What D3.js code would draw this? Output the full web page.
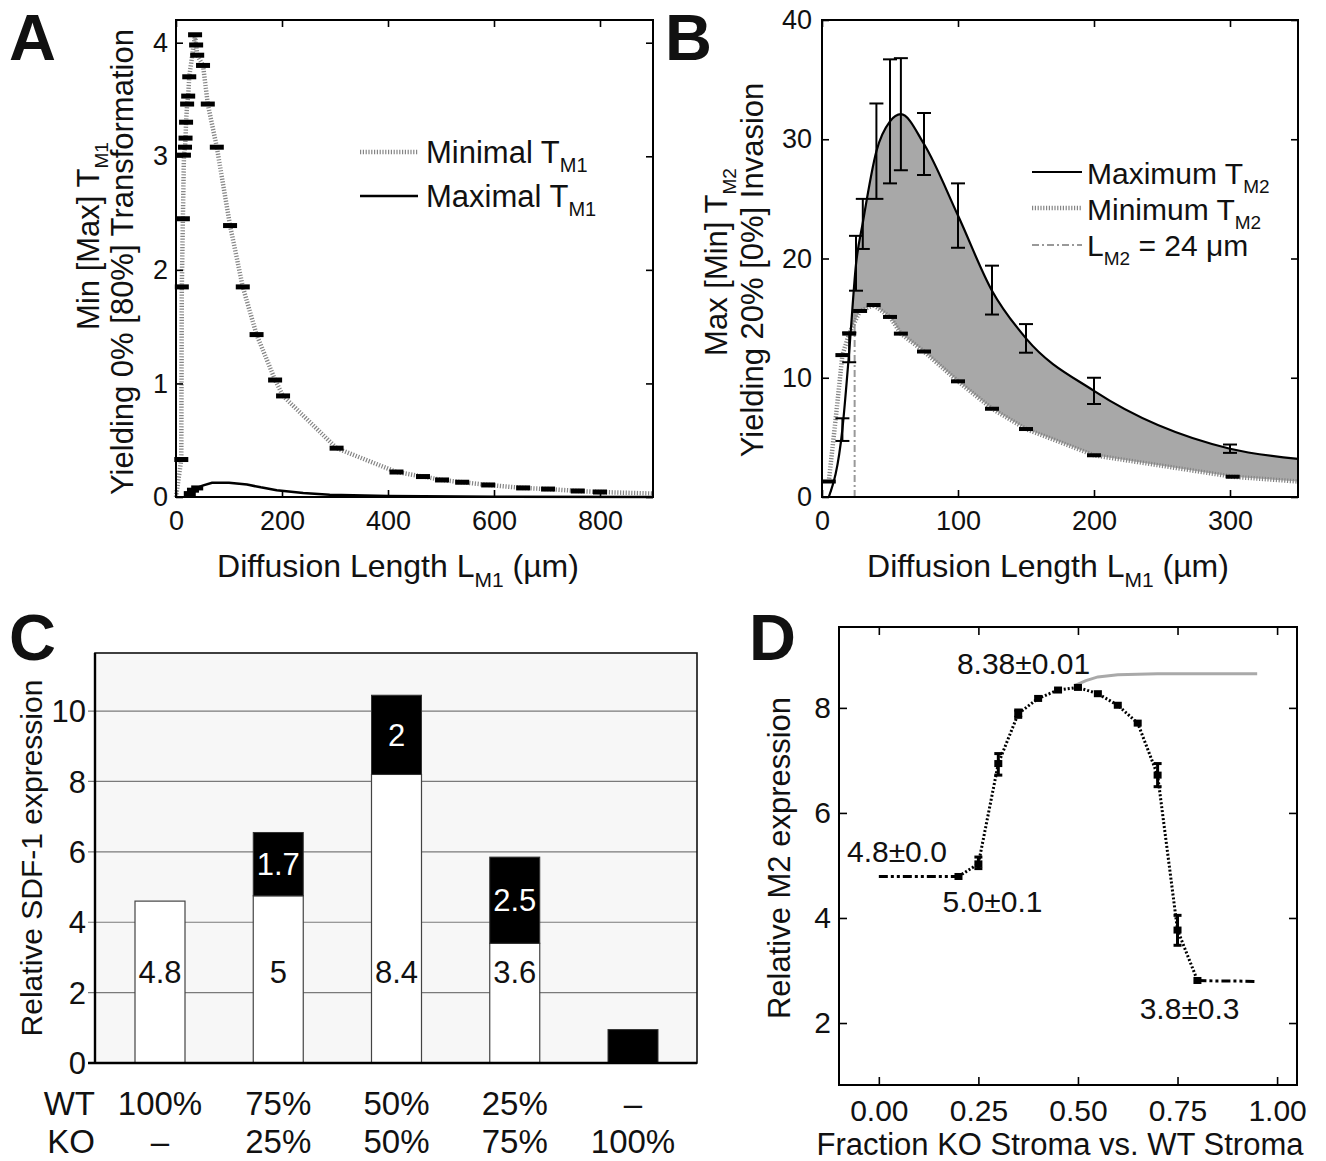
<!DOCTYPE html>
<html>
<head>
<meta charset="utf-8">
<script src="https://cdn.jsdelivr.net/npm/d3@7"></script>
<style>
  body { margin: 0; background: #fff; }
  svg { display: block; }
  text { font-family: "Liberation Sans", Arial, sans-serif; fill: #111; }
  .narrow { font-family: "Liberation Sans Narrow", "Arial Narrow", "Liberation Sans", sans-serif; }
</style>
</head>
<body>
<svg id="fig" width="1326" height="1161"></svg>
<script>
// ---- panel A : T_M1 vs diffusion length
const aMinL = [0, 10, 11, 13, 15, 17, 18, 19, 21, 23, 25, 36, 38, 40, 51, 60, 77, 102, 126, 152, 187, 202, 303, 416, 466, 502, 540, 589, 655, 702, 758, 800, 900];
const aMinV = [0, 0.33, 1.85, 2.45, 3.01, 3.08, 3.16, 3.3, 3.46, 3.53, 3.7, 4.07, 3.98, 3.89, 3.8, 3.46, 3.08, 2.39, 1.85, 1.43, 1.03, 0.89, 0.43, 0.22, 0.18, 0.15, 0.13, 0.106, 0.08, 0.07, 0.053, 0.044, 0.03];
const aMaxL = [20, 26, 32, 40, 50, 68, 100, 134, 160, 190, 240, 290, 400, 600, 900];
const aMaxV = [0, 0.03, 0.06, 0.08, 0.1, 0.125, 0.125, 0.11, 0.085, 0.06, 0.035, 0.02, 0.008, 0.003, 0.001];
const aXTicks = [0, 200, 400, 600, 800];
const aYTicks = [0, 1, 2, 3, 4];

// ---- panel B : T_M2 vs diffusion length
const bMaxL = [5, 15, 20, 25, 30, 40, 50, 58, 75, 100, 125, 150, 200, 300, 350];
const bMaxV = [0, 5.7, 12.2, 19.5, 23, 29, 31.5, 32.1, 29.6, 23.6, 17.3, 13.3, 8.9, 4.05, 3.2];
const bMaxLo = [null, 4.7, 11.3, 17.3, 20.8, 25, 26.3, 27.4, 27, 20.9, 15.3, 12.1, 7.8, 3.7, null];
const bMaxHi = [null, 6.6, 13.8, 21.9, 25, 33, 36.7, 36.8, 32.2, 26.3, 19.4, 14.5, 10, 4.4, null];
const bMinL = [5, 10, 15, 20, 28, 38, 50, 58, 75, 100, 125, 150, 200, 302, 350];
const bMinV = [1.3, 6.5, 11.9, 13.7, 15.6, 16.1, 15.1, 13.7, 12.2, 9.7, 7.4, 5.7, 3.5, 1.7, 1.3];
const bLM2 = 24;
const bXTicks = [0, 100, 200, 300];
const bYTicks = [0, 10, 20, 30, 40];

// ---- panel C : SDF-1 expression
const cGroups = ["g1", "g2", "g3", "g4", "g5"];
const cWT = [4.6, 4.75, 8.2, 3.4, 0];
const cKO = [0, 1.8, 2.25, 2.45, 0.95];
const cWTLabel = ["4.8", "5", "8.4", "3.6", ""];
const cKOLabel = ["", "1.7", "2", "2.5", ""];
const cWTRow = ["100%", "75%", "50%", "25%", "–"];
const cKORow = ["–", "25%", "50%", "75%", "100%"];
const cYTicks = [0, 2, 4, 6, 8, 10];

// ---- panel D : M2 expression vs KO fraction
const dX = [0, 0.05, 0.1, 0.15, 0.2, 0.25, 0.3, 0.35, 0.4, 0.45, 0.5, 0.55, 0.6, 0.65, 0.7, 0.75, 0.8, 0.85, 0.9, 0.95];
const dY = [4.79, 4.79, 4.79, 4.79, 4.79, 5.03, 6.94, 7.89, 8.18, 8.34, 8.39, 8.27, 8.05, 7.71, 6.72, 3.77, 2.81, 2.8, 2.8, 2.79];
const dLo = [null, null, null, null, null, 4.94, 6.72, 7.82, null, null, null, null, null, null, 6.5, 3.48, null, null, null, null];
const dHi = [null, null, null, null, null, 5.16, 7.13, 7.96, null, null, null, null, null, null, 6.94, 4.05, null, null, null, null];
const dGX = [0.49, 0.52, 0.55, 0.6, 0.65, 0.7, 0.8, 0.9, 0.95];
const dGY = [8.42, 8.52, 8.59, 8.63, 8.64, 8.65, 8.65, 8.65, 8.65];
const dNotes = [
  { t: "8.38±0.01", x: 0.196, y: 8.64 },
  { t: "4.8±0.0", x: -0.08, y: 5.07 },
  { t: "5.0±0.1", x: 0.16, y: 4.12 },
  { t: "3.8±0.3", x: 0.655, y: 2.08 },
];
const dXTicks = [0, 0.25, 0.5, 0.75, 1];
const dYTicks = [2, 4, 6, 8];

const svg = d3.select("#fig");
svg.append("rect").attr("width", 1326).attr("height", 1161).attr("fill", "#fff");

// text with subscripts: parts = [[string, isSub], ...]
function rich(sel, parts, fs, sfs) {
  parts.forEach(([t, s], i) => {
    const ts = sel.append("tspan").text(t);
    if (s) ts.attr("font-size", sfs).attr("dy", fs * 0.3);
    else if (i > 0 && parts[i - 1][1]) ts.attr("dy", -fs * 0.3);
  });
  return sel;
}

// matlab-like box with inward ticks on all sides
function boxAxes(x, y, xTicks, yTicks, o) {
  const [x0, x1] = x.range(), [y0, y1] = y.range();
  const g = svg.append("g");
  const style = s => {
    s.attr("font-family", null).attr("font-size", null);
    s.select(".domain").remove();
    s.selectAll("line").attr("stroke-width", 1.6);
    s.selectAll("text").attr("font-size", o.fs);
  };
  g.append("g").attr("transform", `translate(0,${y0})`)
    .call(d3.axisBottom(x).tickValues(xTicks).tickSize(-o.tick).tickPadding(o.xpad).tickFormat(o.xfmt || (d => d)))
    .call(style);
  g.append("g").attr("transform", `translate(0,${y1})`)
    .call(d3.axisTop(x).tickValues(xTicks).tickSize(-o.tick).tickFormat(() => ""))
    .call(style);
  g.append("g").attr("transform", `translate(${x0},0)`)
    .call(d3.axisLeft(y).tickValues(yTicks).tickSize(-o.tick).tickPadding(o.ypad).tickFormat(d => d))
    .call(style);
  g.append("g").attr("transform", `translate(${x1},0)`)
    .call(d3.axisRight(y).tickValues(yTicks).tickSize(-o.tick).tickFormat(() => ""))
    .call(style);
  g.append("rect").attr("x", x0).attr("y", y1).attr("width", x1 - x0).attr("height", y0 - y1)
    .attr("fill", "none").attr("stroke", "#000").attr("stroke-width", 2);
  return g;
}

function panelLetter(t, x, y) {
  svg.append("text").attr("x", x).attr("y", y).attr("font-size", 65).attr("font-weight", "bold").text(t);
}

function vTitle(parts, x, y, fs, sfs) {
  const t = svg.append("text").attr("transform", `translate(${x},${y}) rotate(-90)`)
    .attr("text-anchor", "middle").attr("font-size", fs);
  rich(t, parts, fs, sfs);
}

const dotted = { stroke: "#858585", width: 4.5, dash: "1.2,1.6" };

// ================= Panel A =================
{
  const x = d3.scaleLinear([0, 900], [176, 653]);
  const y = d3.scaleLinear([0, 4.2], [497, 20]);
  const line = d3.line().x(d => x(d[0])).y(d => y(d[1]));

  const maxPts = aMaxL.map((l, i) => [l, aMaxV[i]]);
  svg.append("path").attr("d", line(maxPts)).attr("fill", "none")
    .attr("stroke", "#000").attr("stroke-width", 2.5);
  svg.append("g").selectAll("rect").data(maxPts.slice(1, 4)).join("rect")
    .attr("x", d => x(d[0]) - 6).attr("y", d => y(d[1]) - 2.5).attr("width", 12).attr("height", 5).attr("fill", "#000");

  const minPts = aMinL.map((l, i) => [l, aMinV[i]]);
  svg.append("path").attr("d", line(minPts)).attr("fill", "none")
    .attr("stroke", dotted.stroke).attr("stroke-width", dotted.width).attr("stroke-dasharray", dotted.dash);
  svg.append("g").selectAll("rect").data(minPts.slice(1, -1)).join("rect")
    .attr("x", d => x(d[0]) - 7).attr("y", d => y(d[1]) - 2.5).attr("width", 14).attr("height", 5).attr("fill", "#000");

  boxAxes(x, y, aXTicks, aYTicks, { tick: 7, xpad: 14, ypad: 8, fs: 27 });

  // legend
  svg.append("line").attr("x1", 360).attr("x2", 418).attr("y1", 152).attr("y2", 152)
    .attr("stroke", dotted.stroke).attr("stroke-width", dotted.width).attr("stroke-dasharray", dotted.dash);
  rich(svg.append("text").attr("x", 426).attr("y", 163).attr("font-size", 31), [["Minimal T", 0], ["M1", 1]], 31, 20);
  svg.append("line").attr("x1", 360).attr("x2", 418).attr("y1", 196).attr("y2", 196)
    .attr("stroke", "#000").attr("stroke-width", 2.5);
  rich(svg.append("text").attr("x", 426).attr("y", 207).attr("font-size", 31), [["Maximal T", 0], ["M1", 1]], 31, 20);

  rich(svg.append("text").attr("x", 398).attr("y", 577).attr("text-anchor", "middle").attr("font-size", 32),
    [["Diffusion Length L", 0], ["M1", 1], [" (µm)", 0]], 32, 21);
  vTitle([["Min [Max] T", 0], ["M1", 1]], 99, 236, 31, 19);
  vTitle([["Yielding 0% [80%] Transformation", 0]], 133, 262, 31, 19);
  panelLetter("A", 9, 60);
}

// ================= Panel B =================
{
  const x = d3.scaleLinear([0, 350], [822, 1298]);
  const y = d3.scaleLinear([0, 40], [497, 20]);
  const line = d3.line().x(d => x(d[0])).y(d => y(d[1]));
  const smooth = d3.line().x(d => x(d[0])).y(d => y(d[1])).curve(d3.curveMonotoneX);
  const maxPts = bMaxL.map((l, i) => [l, bMaxV[i]]);
  const minPts = bMinL.map((l, i) => [l, bMinV[i]]);

  // grey band between the curves: smooth upper edge, straight lower edge back
  const upper = smooth(maxPts.filter(d => d[0] >= 20));
  const lower = line(minPts.filter(d => d[0] >= 20).reverse()).replace(/^M/, "L");
  svg.append("path").attr("d", upper + lower + "Z").attr("fill", "#a8a8a8");

  svg.append("line").attr("x1", x(bLM2)).attr("x2", x(bLM2)).attr("y1", y(0)).attr("y2", y(15.8))
    .attr("stroke", "#999").attr("stroke-width", 2).attr("stroke-dasharray", "7,3,2,3");

  svg.append("path").attr("d", line(minPts)).attr("fill", "none")
    .attr("stroke", dotted.stroke).attr("stroke-width", dotted.width).attr("stroke-dasharray", dotted.dash);
  svg.append("g").selectAll("rect").data(minPts.filter((d, i) => i !== 1 && i !== minPts.length - 1)).join("rect")
    .attr("x", d => x(d[0]) - 7).attr("y", d => y(d[1]) - 2).attr("width", 14).attr("height", 4).attr("fill", "#000");

  svg.append("path").attr("d", smooth(maxPts))
    .attr("fill", "none").attr("stroke", "#000").attr("stroke-width", 2.2);
  const eb = svg.append("g").attr("stroke", "#000").attr("stroke-width", 2);
  bMaxL.forEach((l, i) => {
    if (bMaxLo[i] == null) return;
    const cx = x(l);
    eb.append("line").attr("x1", cx).attr("x2", cx).attr("y1", y(bMaxLo[i])).attr("y2", y(bMaxHi[i]));
    eb.append("line").attr("x1", cx - 7).attr("x2", cx + 7).attr("y1", y(bMaxLo[i])).attr("y2", y(bMaxLo[i]));
    eb.append("line").attr("x1", cx - 7).attr("x2", cx + 7).attr("y1", y(bMaxHi[i])).attr("y2", y(bMaxHi[i]));
  });

  boxAxes(x, y, bXTicks, bYTicks, { tick: 7, xpad: 14, ypad: 10, fs: 27 });

  // legend
  svg.append("line").attr("x1", 1032).attr("x2", 1082).attr("y1", 172).attr("y2", 172)
    .attr("stroke", "#000").attr("stroke-width", 2.2);
  rich(svg.append("text").attr("x", 1087).attr("y", 184).attr("font-size", 30), [["Maximum T", 0], ["M2", 1]], 30, 19);
  svg.append("line").attr("x1", 1032).attr("x2", 1082).attr("y1", 208).attr("y2", 208)
    .attr("stroke", dotted.stroke).attr("stroke-width", dotted.width).attr("stroke-dasharray", dotted.dash);
  rich(svg.append("text").attr("x", 1087).attr("y", 220).attr("font-size", 30), [["Minimum T", 0], ["M2", 1]], 30, 19);
  svg.append("line").attr("x1", 1032).attr("x2", 1082).attr("y1", 245).attr("y2", 245)
    .attr("stroke", "#999").attr("stroke-width", 2).attr("stroke-dasharray", "7,3,2,3");
  rich(svg.append("text").attr("x", 1087).attr("y", 256).attr("font-size", 30), [["L", 0], ["M2", 1], [" = 24 μm", 0]], 30, 19);

  rich(svg.append("text").attr("x", 1048).attr("y", 577).attr("text-anchor", "middle").attr("font-size", 32),
    [["Diffusion Length L", 0], ["M1", 1], [" (µm)", 0]], 32, 21);
  vTitle([["Max [Min] T", 0], ["M2", 1]], 727, 262, 31, 19);
  vTitle([["Yielding 20% [0%] Invasion", 0]], 763, 270, 31, 19);
  panelLetter("B", 665, 60);
}

// ================= Panel C =================
{
  const x = d3.scalePoint(cGroups, [160, 633]);
  const y = d3.scaleLinear([0, 11.65], [1063, 653]);
  const bw = 50;

  svg.append("rect").attr("x", 95).attr("y", 653).attr("width", 602).attr("height", 410).attr("fill", "#f7f7f7");
  svg.append("g").selectAll("line").data(cYTicks.filter(d => d > 0)).join("line")
    .attr("x1", 88).attr("x2", 697).attr("y1", d => y(d)).attr("y2", d => y(d))
    .attr("stroke", "#7a7a7a").attr("stroke-width", 1.2);

  const bars = svg.append("g");
  bars.selectAll(".wt").data(cGroups.filter((g, i) => cWT[i] > 0)).join("rect")
    .attr("x", g => x(g) - bw / 2).attr("width", bw)
    .attr("y", g => y(cWT[cGroups.indexOf(g)])).attr("height", g => y(0) - y(cWT[cGroups.indexOf(g)]))
    .attr("fill", "#fff").attr("stroke", "#444").attr("stroke-width", 1.2);
  bars.selectAll(".ko").data(cGroups.filter((g, i) => cKO[i] > 0)).join("rect")
    .attr("x", g => x(g) - bw / 2).attr("width", bw)
    .attr("y", g => { const i = cGroups.indexOf(g); return y(cWT[i] + cKO[i]); })
    .attr("height", g => { const i = cGroups.indexOf(g); return y(cWT[i]) - y(cWT[i] + cKO[i]); })
    .attr("fill", "#000").attr("stroke", "#333").attr("stroke-width", 1);

  bars.selectAll(".wl").data(cGroups).join("text").attr("class", "narrow")
    .attr("x", g => x(g)).attr("y", y(2.6)).attr("dy", "0.36em").attr("text-anchor", "middle")
    .attr("font-size", 31).text((g, i) => cWTLabel[i]);
  bars.selectAll(".kl").data(cGroups).join("text").attr("class", "narrow")
    .attr("x", g => x(g)).attr("y", (g, i) => y(cWT[i] + cKO[i] / 2)).attr("dy", "0.36em").attr("text-anchor", "middle")
    .attr("font-size", 31).style("fill", "#fff").text((g, i) => cKOLabel[i]);

  // frame
  svg.append("rect").attr("x", 95).attr("y", 653).attr("width", 602).attr("height", 410)
    .attr("fill", "none").attr("stroke", "#111").attr("stroke-width", 1.6);
  svg.append("line").attr("x1", 95).attr("x2", 95).attr("y1", 653).attr("y2", 1063).attr("stroke", "#000").attr("stroke-width", 2.4);
  svg.append("line").attr("x1", 88).attr("x2", 697).attr("y1", 1063).attr("y2", 1063).attr("stroke", "#000").attr("stroke-width", 2.4);

  svg.append("g").selectAll("text").data(cYTicks).join("text").attr("class", "narrow")
    .attr("x", 86).attr("y", d => y(d)).attr("dy", "0.36em").attr("text-anchor", "end")
    .attr("font-size", 31).text(d => d);

  svg.append("g").selectAll("text").data(cGroups).join("text").attr("class", "narrow")
    .attr("x", g => x(g)).attr("y", 1115).attr("text-anchor", "middle").attr("font-size", 33).text((g, i) => cWTRow[i]);
  svg.append("g").selectAll("text").data(cGroups).join("text").attr("class", "narrow")
    .attr("x", g => x(g)).attr("y", 1153).attr("text-anchor", "middle").attr("font-size", 33).text((g, i) => cKORow[i]);
  svg.append("text").attr("class", "narrow").attr("x", 95).attr("y", 1115).attr("text-anchor", "end").attr("font-size", 33).text("WT");
  svg.append("text").attr("class", "narrow").attr("x", 95).attr("y", 1153).attr("text-anchor", "end").attr("font-size", 33).text("KO");

  vTitle([["Relative SDF-1 expression", 0]], 42, 858, 30, 19);
  panelLetter("C", 9, 660);
}

// ================= Panel D =================
{
  const x = d3.scaleLinear([-0.1, 1.05], [839, 1297]);
  const y = d3.scaleLinear([0.82, 9.54], [1085, 627]);
  const pts = dX.map((v, i) => [v, dY[i]]);
  const line = d3.line().x(d => x(d[0])).y(d => y(d[1]));

  svg.append("path").attr("d", line(dGX.map((v, i) => [v, dGY[i]]))).attr("fill", "none")
    .attr("stroke", "#a9a9a9").attr("stroke-width", 3);

  svg.append("path").attr("d", line(pts.slice(0, 5))).attr("fill", "none")
    .attr("stroke", "#000").attr("stroke-width", 3).attr("stroke-dasharray", "9,3,3,3,3,3");
  svg.append("path").attr("d", line(pts.slice(16))).attr("fill", "none")
    .attr("stroke", "#000").attr("stroke-width", 3).attr("stroke-dasharray", "9,3,3,3,3,3");
  svg.append("path").attr("d", line(pts.slice(4, 17))).attr("fill", "none")
    .attr("stroke", "#000").attr("stroke-width", 3).attr("stroke-dasharray", "2,2");

  svg.append("g").selectAll("rect").data(pts.slice(4, 17)).join("rect")
    .attr("x", d => x(d[0]) - 4).attr("y", d => y(d[1]) - 3.5).attr("width", 8).attr("height", 7).attr("fill", "#000");
  const eb = svg.append("g").attr("stroke", "#000").attr("stroke-width", 3);
  dX.forEach((v, i) => {
    if (dLo[i] == null) return;
    const cx = x(v);
    eb.append("line").attr("x1", cx).attr("x2", cx).attr("y1", y(dLo[i])).attr("y2", y(dHi[i]));
    eb.append("line").attr("x1", cx - 4).attr("x2", cx + 4).attr("y1", y(dLo[i])).attr("y2", y(dLo[i]));
    eb.append("line").attr("x1", cx - 4).attr("x2", cx + 4).attr("y1", y(dHi[i])).attr("y2", y(dHi[i]));
  });

  svg.append("g").selectAll("text").data(dNotes).join("text")
    .attr("x", d => x(d.x)).attr("y", d => y(d.y)).attr("font-size", 30).text(d => d.t);

  boxAxes(x, y, dXTicks, dYTicks, { tick: 8, xpad: 15, ypad: 8, fs: 30, xfmt: d3.format(".2f") });

  svg.append("text").attr("x", 1060).attr("y", 1155).attr("text-anchor", "middle").attr("font-size", 31)
    .text("Fraction KO Stroma vs. WT Stroma");
  vTitle([["Relative M2 expression", 0]], 790, 858, 31, 19);
  panelLetter("D", 749, 660);
}
</script>
</body>
</html>
